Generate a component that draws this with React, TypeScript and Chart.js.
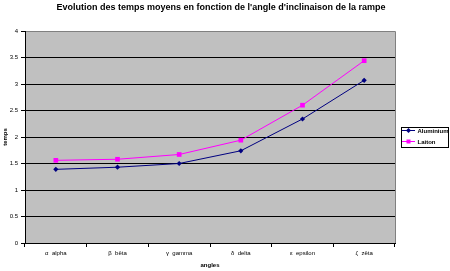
import React, { useEffect, useRef } from "react";
import { Chart, registerables } from "chart.js";
Chart.register(...registerables);

const categories = ["α  alpha", "β  bêta", "γ  gamma", "δ  delta", "ε  epsilon", "ζ  zêta"];
const aluminium = [1.39, 1.43, 1.5, 1.74, 2.34, 3.07];
const laiton = [1.56, 1.58, 1.67, 1.94, 2.6, 3.44];
const seriesNames = ["Aluminium", "Laiton"];
const seriesColors = ["#000080", "#ff00ff"];
const titleText = "Evolution des temps moyens en fonction de l'angle d'inclinaison de la rampe";
const xTitle = "angles";
const yTitle = "temps";

const FONT = "'Liberation Sans', Arial, sans-serif";

const decorPlugin = {
  id: "decor",
  beforeDraw(chart: any) {
    const { ctx, chartArea: a } = chart;
    ctx.save();
    ctx.fillStyle = "#c0c0c0";
    ctx.fillRect(a.left, a.top, a.right - a.left, a.bottom - a.top);
    ctx.strokeStyle = "#808080";
    ctx.lineWidth = 1;
    ctx.beginPath();
    ctx.moveTo(a.left, Math.round(a.top) + 0.5);
    ctx.lineTo(Math.round(a.right) + 0.5, Math.round(a.top) + 0.5);
    ctx.lineTo(Math.round(a.right) + 0.5, a.bottom);
    ctx.stroke();
    ctx.restore();
  },
  afterDraw(chart: any) {
    const { ctx } = chart;
    ctx.save();
    ctx.fillStyle = "#000";
    ctx.font = `bold 9px ${FONT}`;
    ctx.textAlign = "center";
    ctx.textBaseline = "middle";
    ctx.fillText(titleText, 221, 7.5);
    // legend
    ctx.strokeStyle = "#000";
    ctx.lineWidth = 1;
    ctx.strokeRect(401.5, 127.5, 47, 20);
    ctx.font = `bold 6px ${FONT}`;
    ctx.textAlign = "left";
    seriesNames.forEach((name, i) => {
      const y = 130.5 + i * 11;
      ctx.strokeStyle = seriesColors[i];
      ctx.beginPath();
      ctx.moveTo(402, y);
      ctx.lineTo(415, y);
      ctx.stroke();
      ctx.fillStyle = seriesColors[i];
      if (i === 0) {
        ctx.beginPath();
        ctx.moveTo(408.5, y - 2.5);
        ctx.lineTo(411, y);
        ctx.lineTo(408.5, y + 2.5);
        ctx.lineTo(406, y);
        ctx.closePath();
        ctx.fill();
      } else {
        ctx.fillRect(406.5, y - 2, 4, 4);
      }
      ctx.fillStyle = "#000";
      ctx.fillText(name, 417.5, y + 0.5);
    });
    ctx.restore();
  },
};

export default function App() {
  const ref = useRef<HTMLCanvasElement>(null);
  useEffect(() => {
    if (!ref.current) return;
    const chart = new Chart(ref.current, {
      type: "line",
      data: {
        labels: categories,
        datasets: [
          {
            label: seriesNames[0],
            data: aluminium,
            borderColor: seriesColors[0],
            backgroundColor: seriesColors[0],
            borderWidth: 1,
            pointStyle: "rectRot",
            pointRadius: 2.6,
            pointBorderWidth: 0,
            tension: 0,
          },
          {
            label: seriesNames[1],
            data: laiton,
            borderColor: seriesColors[1],
            backgroundColor: seriesColors[1],
            borderWidth: 1,
            pointStyle: "rect",
            pointRadius: 3.3,
            pointBorderWidth: 0,
            tension: 0,
          },
        ],
      },
      plugins: [decorPlugin],
      options: {
        responsive: false,
        animation: false,
        devicePixelRatio: 1,
        layout: { padding: { top: 31, right: 55, left: 0, bottom: 0 } },
        plugins: {
          legend: { display: false },
          title: { display: false },
          tooltip: { enabled: false },
        },
        scales: {
          x: {
            offset: true,
            afterFit: (s: any) => {
              s.height = 28;
            },
            grid: {
              offset: true,
              drawOnChartArea: false,
              drawTicks: true,
              tickLength: 4,
              color: "#000",
            },
            border: { color: "#000", width: 1 },
            ticks: {
              color: "#000",
              padding: 3,
              maxRotation: 0,
              autoSkip: false,
              font: { family: FONT, size: 6 },
            },
            title: {
              display: true,
              text: xTitle,
              color: "#000",
              padding: { top: 0, bottom: 2 },
              font: { family: FONT, size: 6, weight: "bold" },
            },
          },
          y: {
            min: 0,
            max: 4,
            afterFit: (s: any) => {
              s.width = 25;
            },
            grid: {
              color: (c: any) => (c.tick && c.tick.value === 4 ? "#808080" : "#000"),
              tickColor: "#000",
              tickLength: 4,
              lineWidth: 1,
            },
            border: { color: "#000", width: 1 },
            ticks: {
              stepSize: 0.5,
              color: "#000",
              padding: 3,
              font: { family: FONT, size: 6 },
              callback: (v: any) => String(v),
            },
            title: {
              display: true,
              text: yTitle,
              color: "#000",
              padding: { top: 2, bottom: 0 },
              font: { family: FONT, size: 6, weight: "bold" },
            },
          },
        },
      },
    });
    return () => chart.destroy();
  }, []);
  return (
    <div style={{ position: "fixed", left: 0, top: 0, width: 450, height: 271, background: "#fff" }}>
      <canvas ref={ref} width={450} height={271} style={{ display: "block" }} />
    </div>
  );
}
